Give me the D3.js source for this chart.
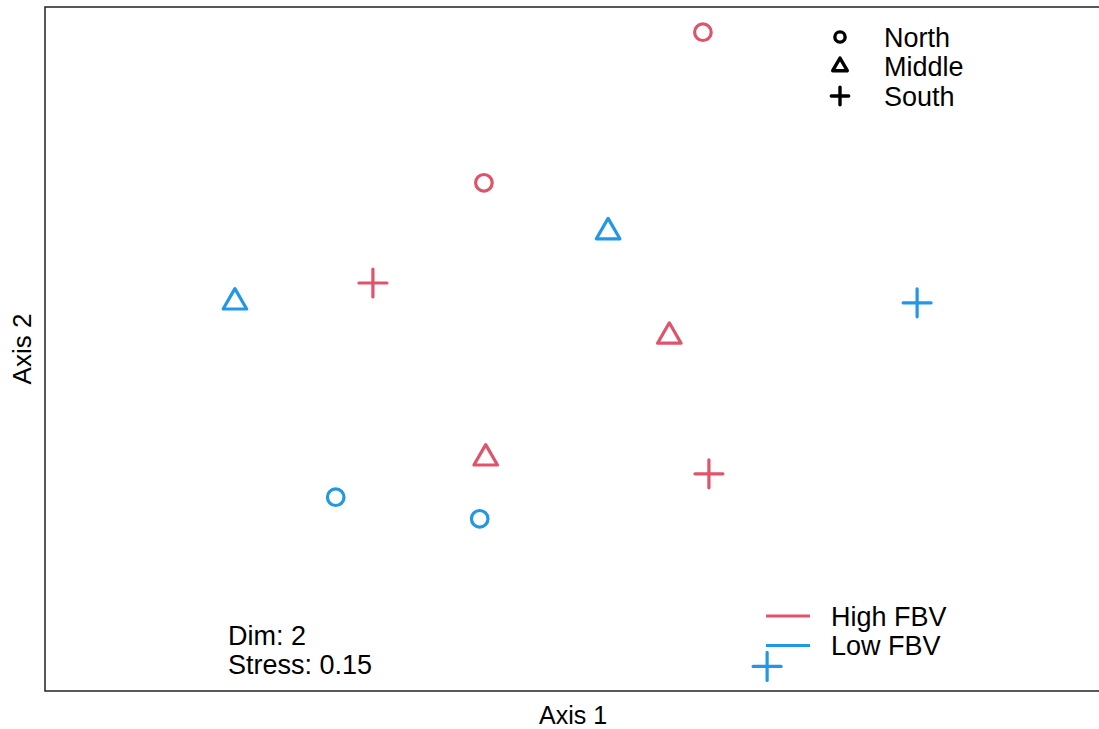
<!DOCTYPE html>
<html>
<head>
<meta charset="utf-8">
<script src="https://cdn.jsdelivr.net/npm/d3@7"></script>
<style>
  html, body { margin: 0; padding: 0; background: #fff; }
  text { font-family: "Liberation Sans", Arial, sans-serif; fill: #000; }
</style>
</head>
<body>
<svg id="chart" width="1099" height="729"></svg>
<script>
// NMDS site scores (2 dimensions)
const fbvGroup = ["High", "High", "Low", "Low", "High", "Low", "High", "High", "High", "Low", "Low", "Low"];
const region   = ["North", "North", "Middle", "Middle", "South", "South", "Middle", "Middle", "South", "North", "North", "South"];
const axis1    = [0.219, -0.146, 0.061, -0.561, -0.331, 0.576, 0.163, -0.143, 0.229, -0.393, -0.153, 0.326];
const axis2    = [0.528, 0.277, 0.195, 0.078, 0.110, 0.077, 0.021, -0.182, -0.208, -0.247, -0.283, -0.529];

const regionLevels = ["North", "Middle", "South"];
const fbvLevels = ["High FBV", "Low FBV"];
const stressLines = ["Dim: 2", "Stress: 0.15"];

const colour = { "High": "#DF536B", "Low": "#2297E6" };

const svg = d3.select("#chart");
const plot = { left: 45, top: 7, right: 1100, bottom: 691 };

// Equal-aspect scales (600 px per unit on both axes)
const x = d3.scaleLinear().domain([-0.8775, 0.8808]).range([plot.left, plot.right]);
const y = d3.scaleLinear().domain([-0.57, 0.57]).range([plot.bottom, plot.top]);

function plusPath(h) { return `M${-h},0H${h}M0,${-h}V${h}`; }
function drawMarker(g, shape, cx, cy, col, scale, sw) {
  const s = scale || 1;
  const w = sw || 3.2;
  if (shape === "North") {
    g.append("circle").attr("cx", cx).attr("cy", cy).attr("r", 8.3 * s)
      .attr("fill", "none").attr("stroke", col).attr("stroke-width", w);
  } else if (shape === "Middle") {
    g.append("path").attr("d", d3.symbol().type(d3.symbolTriangle).size(240 * s * s)())
      .attr("transform", `translate(${cx},${cy})`)
      .attr("fill", "none").attr("stroke", col).attr("stroke-width", w).attr("stroke-linejoin", "round");
  } else {
    g.append("path").attr("d", plusPath(14 * s))
      .attr("transform", `translate(${cx},${cy})`)
      .attr("fill", "none").attr("stroke", col).attr("stroke-width", w).attr("stroke-linecap", "round");
  }
}

// Points
const pts = svg.append("g");
axis1.forEach((v, i) => {
  drawMarker(pts, region[i], x(v), y(axis2[i]), colour[fbvGroup[i]]);
});

// Plot frame
svg.append("rect")
  .attr("x", plot.left).attr("y", plot.top)
  .attr("width", plot.right - plot.left).attr("height", plot.bottom - plot.top)
  .attr("fill", "none").attr("stroke", "#222").attr("stroke-width", 1.5);

// Axis titles
svg.append("text").attr("x", 573).attr("y", 724)
  .attr("text-anchor", "middle").attr("font-size", 25).text("Axis 1");
svg.append("text").attr("transform", `translate(31,${(plot.top + plot.bottom) / 2}) rotate(-90)`)
  .attr("text-anchor", "middle").attr("font-size", 26).text("Axis 2");

// Region legend (shapes)
const lg1 = svg.append("g");
regionLevels.forEach((r, i) => {
  const cy = 37 + i * 29.5;
  drawMarker(lg1, r, 840, cy, "#000", 0.62, 3.4);
  lg1.append("text").attr("x", 884).attr("y", cy + 9.5).attr("font-size", 27).text(r);
});

// FBV legend (colours)
const lg2 = svg.append("g");
fbvLevels.forEach((f, i) => {
  const cy = 616 + i * 29.5;
  lg2.append("line").attr("x1", 766).attr("x2", 810).attr("y1", cy).attr("y2", cy)
    .attr("stroke", colour[f.split(" ")[0]]).attr("stroke-width", 3.2);
  lg2.append("text").attr("x", 831).attr("y", cy + 9.5).attr("font-size", 27).text(f);
});

// Stress annotation
stressLines.forEach((t, i) => {
  svg.append("text").attr("x", 228).attr("y", 645 + i * 29).attr("font-size", 27).text(t);
});
</script>
</body>
</html>
